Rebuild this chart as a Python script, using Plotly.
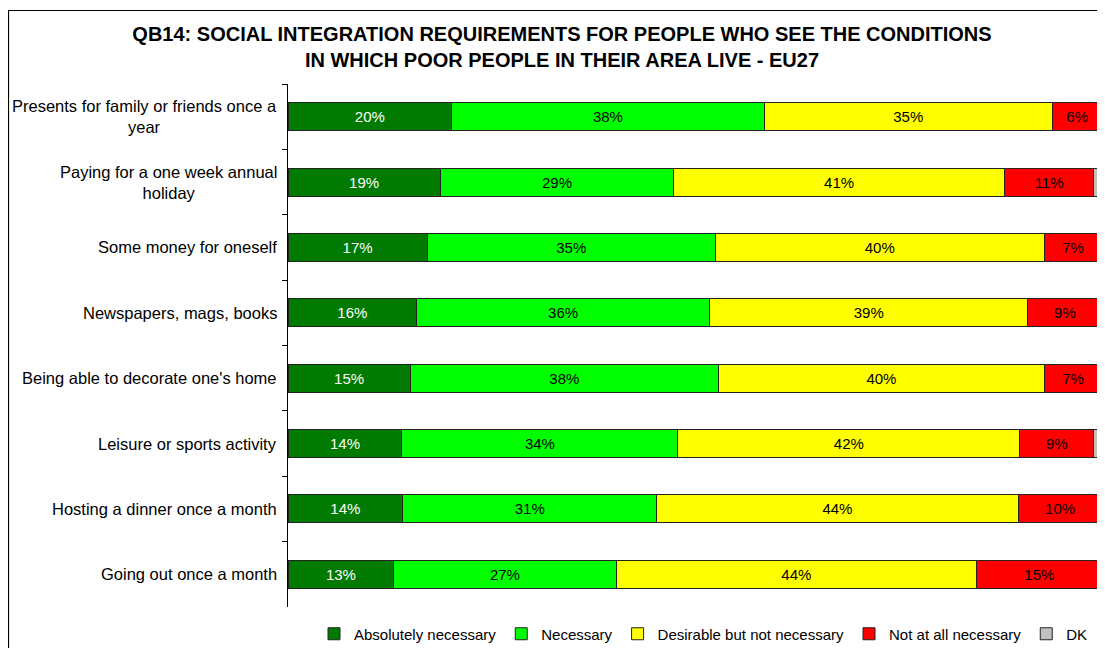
import plotly.graph_objects as go

categories = [
    "Presents for family or friends once a<br>year",
    "Paying for a one week annual<br>holiday",
    "Some money for oneself",
    "Newspapers, mags, books",
    "Being able to decorate one's home",
    "Leisure or sports activity",
    "Hosting a dinner once a month",
    "Going out once a month",
]
absolutely_necessary = [20.1, 18.7, 17.1, 15.8, 15.0, 14.0, 14.1, 13.0]
necessary = [38.4, 28.7, 35.4, 36.0, 37.9, 33.9, 31.2, 27.3]
desirable = [35.4, 40.6, 40.4, 39.1, 40.0, 42.0, 44.4, 44.3]
not_at_all = [6.1, 11.0, 7.1, 9.1, 7.1, 9.1, 10.3, 15.4]
dk = [0.0, 1.0, 0.0, 0.0, 0.0, 1.0, 0.0, 0.0]

series = [
    ("Absolutely necessary", absolutely_necessary, "#007A00", "white", True),
    ("Necessary", necessary, "#00FF00", "black", True),
    ("Desirable but not necessary", desirable, "#FFFF00", "black", True),
    ("Not at all necessary", not_at_all, "#FF0000", "black", True),
    ("DK", dk, "#C0C0C0", "black", False),
]

FONT = "Liberation Sans, Arial, sans-serif"

fig = go.Figure()
for name, vals, color, tcolor, show_text in series:
    fig.add_trace(go.Bar(
        name=name,
        y=categories,
        x=vals,
        orientation="h",
        marker=dict(color=color, line=dict(color="#222222", width=1)),
        text=[f"{round(v)}%" for v in vals] if show_text else None,
        textposition="inside" if show_text else "none",
        insidetextanchor="middle",
        textangle=0,
        textfont=dict(color=tcolor, size=15, family=FONT),
        width=0.43,
        hoverinfo="x+y+name",
    ))

# The page body has an 8px margin, so the figure is laid out in its own coordinates
W, H = 1097, 640
L, T = 280, 76
R = W - 1094
B = H - 599
pw = W - L - R
ph = H - T - B

annotations = [
    dict(
        text=cat, xref="paper", yref="y", x=-9 / pw, y=cat,
        xanchor="right", yanchor="middle", align="center", showarrow=False,
        font=dict(size=16.5, family=FONT, color="black"),
    )
    for cat in categories
]

frame_top = (H - B - 2.5) / ph
frame_left = (0.5 - L) / pw

fig.update_layout(
    width=W, height=H,
    barmode="stack",
    plot_bgcolor="white",
    paper_bgcolor="white",
    margin=dict(l=L, r=R, t=T, b=B, autoexpand=False),
    font=dict(family=FONT, color="black"),
    title=dict(
        text="QB14: SOCIAL INTEGRATION REQUIREMENTS FOR PEOPLE WHO SEE THE CONDITIONS<br>IN WHICH POOR PEOPLE IN THEIR AREA LIVE - EU27",
        x=554 / W, xanchor="center", xref="container",
        y=1 - 33 / H, yanchor="top", yref="container",
        font=dict(size=20, family=FONT, color="black", weight="bold"),
    ),
    xaxis=dict(range=[0, 100], visible=False, fixedrange=True),
    yaxis=dict(
        autorange="reversed",
        showline=True, linecolor="black", linewidth=1,
        ticks="outside", ticklen=5, tickcolor="black",
        tickson="boundaries",
        showticklabels=False,
        showgrid=False,
    ),
    legend=dict(
        orientation="h",
        x=306 / W, xref="container", xanchor="left",
        y=1 - 626 / H, yref="container", yanchor="middle",
        font=dict(size=15, family=FONT, color="black"),
        traceorder="normal",
        itemwidth=30,
        bgcolor="rgba(0,0,0,0)",
    ),
    showlegend=True,
    annotations=annotations,
    shapes=[
        dict(type="rect", xref="paper", yref="paper",
             x0=frame_left, x1=1.05, y0=-0.2, y1=frame_top,
             line=dict(color="black", width=1.2),
             fillcolor="rgba(0,0,0,0)", layer="above"),
    ],
)

fig.write_html("out.html")
